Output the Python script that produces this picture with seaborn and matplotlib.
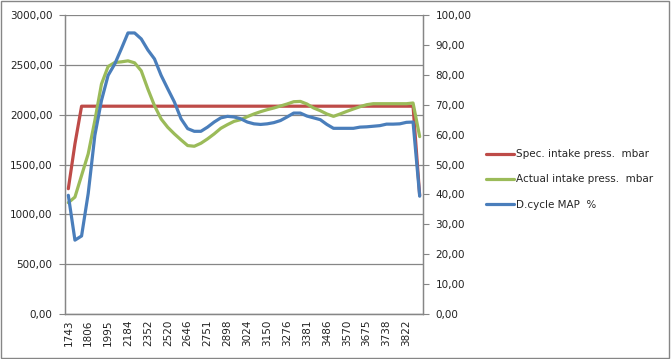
import numpy as np
import matplotlib
matplotlib.use("Agg")
import matplotlib.pyplot as plt
import seaborn as sns
from matplotlib.ticker import FixedLocator, FuncFormatter

sns.set_style("white")
plt.rcParams['font.family'] = ['DejaVu Sans']

# Category tick labels (every 3rd category is labelled)
rpm_labels = ["1743", "1806", "1995", "2184", "2352", "2520", "2646", "2751", "2898",
              "3024", "3150", "3276", "3381", "3486", "3570", "3675", "3738", "3822"]

# Spec. intake press. mbar (left axis)
spec_press = [1257, 1707, 2085, 2085, 2085, 2085, 2085, 2085, 2085, 2085,
              2085, 2085, 2085, 2085, 2085, 2085, 2085, 2085, 2085, 2085,
              2085, 2085, 2085, 2085, 2085, 2085, 2085, 2085, 2085, 2085,
              2085, 2085, 2085, 2085, 2085, 2085, 2085, 2085, 2085, 2085,
              2085, 2085, 2085, 2085, 2085, 2085, 2085, 2085, 2085, 2085,
              2085, 2085, 2085, 1190]

# Actual intake press. mbar (left axis)
actual_press = [1117, 1173, 1390, 1607, 1940, 2307, 2483, 2523, 2530, 2540,
                2520, 2440, 2257, 2090, 1957, 1873, 1807, 1747, 1690, 1683,
                1713, 1757, 1807, 1863, 1900, 1933, 1950, 1980, 2007, 2030,
                2050, 2067, 2087, 2107, 2130, 2133, 2107, 2067, 2040, 2007,
                1983, 2007, 2033, 2057, 2080, 2100, 2110, 2110, 2110, 2110,
                2110, 2110, 2117, 1780]

# D.cycle MAP % (right axis)
dcycle_map = [39.7, 24.7, 26.1, 40.3, 59.7, 71.4, 79.8, 83.6, 88.7, 94.0,
              94.0, 92.0, 88.3, 85.3, 79.8, 75.3, 70.9, 65.3, 62.0, 61.1,
              61.1, 62.5, 64.2, 65.6, 66.1, 65.9, 65.3, 64.2, 63.6, 63.4,
              63.6, 64.0, 64.7, 65.9, 67.2, 67.2, 66.2, 65.6, 65.0, 63.4,
              62.1, 62.1, 62.1, 62.1, 62.5, 62.6, 62.8, 63.0, 63.5, 63.5,
              63.6, 64.1, 64.2, 39.4]

series_names = ["Spec. intake press.  mbar", "Actual intake press.  mbar", "D.cycle MAP  %"]
colors = ["#BE4B48", "#9BBB59", "#4A7EBB"]

n = len(spec_press)
idx = np.arange(n)

fig = plt.figure(figsize=(6.71, 3.59), dpi=100)
ax = fig.add_axes([65/671, 1-314/359, (423-65)/671, (314-15)/359])
ax2 = ax.twinx()

lw = 2.3
sns.lineplot(x=idx, y=spec_press, ax=ax, color=colors[0], lw=lw, label=series_names[0], legend=False)
sns.lineplot(x=idx, y=actual_press, ax=ax, color=colors[1], lw=lw, label=series_names[1], legend=False)
sns.lineplot(x=idx, y=dcycle_map, ax=ax2, color=colors[2], lw=lw, label=series_names[2], legend=False)

grid_col = "#868686"
ax.set_ylim(0, 3000)
ax2.set_ylim(0, 100)
ax.set_xlim(-0.5, n - 0.5)
ax.set_yticks(np.arange(0, 3001, 500))
ax2.set_yticks(np.arange(0, 101, 10))
fmt = FuncFormatter(lambda v, p: f"{v:.2f}".replace(".", ","))
ax.yaxis.set_major_formatter(fmt)
ax2.yaxis.set_major_formatter(fmt)
ax.yaxis.grid(True, color=grid_col, lw=0.9)
ax.set_axisbelow(True)

ax.set_xticks(idx[::3])
ax.set_xticklabels(rpm_labels, rotation=90, fontsize=7.5, color="#222222")
ax.xaxis.set_minor_locator(FixedLocator(np.arange(-0.5, n, 1.0)))
ax.tick_params(axis="x", which="major", length=0, pad=4)
ax.tick_params(axis="x", which="minor", length=4, width=0.8, color=grid_col, direction="out")
ax.tick_params(axis="y", length=4, width=0.8, color=grid_col, labelsize=7.5, labelcolor="#222222", pad=5, direction="out")
ax2.tick_params(axis="y", length=4, width=0.8, color=grid_col, labelsize=7.5, labelcolor="#222222", pad=5, direction="out")

for a in (ax, ax2):
    a.spines["top"].set_visible(False)
    for s in ("left", "right", "bottom"):
        a.spines[s].set_color(grid_col)
        a.spines[s].set_linewidth(0.9)
    a.set_xlabel("")
    a.set_ylabel("")

h1, l1 = ax.get_legend_handles_labels()
h2, l2 = ax2.get_legend_handles_labels()
fig.legend(h1 + h2, l1 + l2, loc="center left", bbox_to_anchor=(486/671, 1-179.5/359),
           frameon=False, fontsize=7.5, handlelength=2.7, handletextpad=0.2,
           labelspacing=1.45, borderpad=0, borderaxespad=0)

# chart border
fig.patches.append(plt.Rectangle((0.002, 0.003), 0.995, 0.994, transform=fig.transFigure,
                                 fill=False, edgecolor="#868686", lw=1.0))

fig.savefig("out.png", dpi=100)
